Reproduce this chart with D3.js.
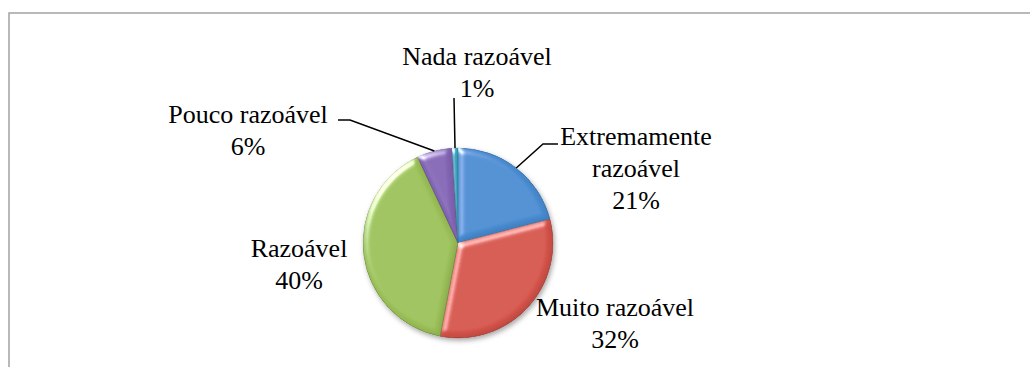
<!DOCTYPE html>
<html>
<head>
<meta charset="utf-8">
<script src="https://cdn.jsdelivr.net/npm/d3@7"></script>
<style>
  html, body { margin: 0; padding: 0; background: #fff; }
  svg { display: block; }
  text { font-family: "Liberation Serif", "Times New Roman", serif; font-size: 26px; fill: #000; }
</style>
</head>
<body>
<svg id="chart" width="1030" height="367"></svg>
<script>
// Survey answers and their share of responses (%)
const categories = ["Extremamente razoável", "Muito razoável", "Razoável", "Pouco razoável", "Nada razoável"];
const values = [21, 32, 40, 6, 1];
const colors = ["#4a8fd6", "#d9554b", "#9fc55a", "#8667b8", "#3ba8c4"];
const rimColors = ["#2f6aa8", "#a63a33", "#76953d", "#5f478c", "#237f97"];

// Label text rows per slice (name broken into lines, then the percentage)
const labelRows = [
  ["Extremamente", "razoável"],
  ["Muito razoável"],
  ["Razoável"],
  ["Pouco razoável"],
  ["Nada razoável"]
];

const W = 1030, H = 367;
const cx = 458, cy = 243, R = 95;
const lineGap = 32;

const svg = d3.select("#chart");

// chart frame (continues past the right and bottom edges)
svg.append("rect")
  .attr("x", 9).attr("y", 13)
  .attr("width", W + 20).attr("height", H + 20)
  .attr("fill", "#fff")
  .attr("stroke", "#a3a3a3")
  .attr("stroke-width", 1.5);

const defs = svg.append("defs");

// bevel lighting for each slice: bright edges facing the light, darker edges away from it
const bevel = defs.append("filter").attr("id", "bevel")
  .attr("x", "-10%").attr("y", "-10%").attr("width", "120%").attr("height", "120%");
bevel.append("feGaussianBlur").attr("in", "SourceAlpha").attr("stdDeviation", 3).attr("result", "blur");
const spec = bevel.append("feSpecularLighting")
  .attr("in", "blur").attr("surfaceScale", 4).attr("specularConstant", 0.8)
  .attr("specularExponent", 20).attr("lighting-color", "#ffffff").attr("result", "spec");
spec.append("feDistantLight").attr("azimuth", 225).attr("elevation", 25);
bevel.append("feComposite").attr("in", "spec").attr("in2", "SourceAlpha").attr("operator", "in").attr("result", "specIn");
const diff = bevel.append("feDiffuseLighting")
  .attr("in", "blur").attr("surfaceScale", 4).attr("diffuseConstant", 1)
  .attr("lighting-color", "#ffffff").attr("result", "diff");
diff.append("feDistantLight").attr("azimuth", 225).attr("elevation", 60);
bevel.append("feComposite").attr("in", "SourceGraphic").attr("in2", "diff")
  .attr("operator", "arithmetic").attr("k1", 0.35).attr("k2", 0.65).attr("k3", 0).attr("k4", 0).attr("result", "shaded");
bevel.append("feComposite").attr("in", "shaded").attr("in2", "specIn")
  .attr("operator", "arithmetic").attr("k1", 0).attr("k2", 1).attr("k3", 1).attr("k4", 0).attr("result", "lit");
bevel.append("feComposite").attr("in", "lit").attr("in2", "SourceAlpha").attr("operator", "in");

// soft shadow under the whole pie
const shadow = defs.append("filter").attr("id", "shadow")
  .attr("x", "-20%").attr("y", "-20%").attr("width", "140%").attr("height", "140%");
shadow.append("feDropShadow").attr("dx", 1.5).attr("dy", 2.5).attr("stdDeviation", 2.5)
  .attr("flood-color", "#000").attr("flood-opacity", 0.35);

const pie = d3.pie().sort(null).value(d => d)(values);
const arc = d3.arc().innerRadius(0).outerRadius(R);

const g = svg.append("g").attr("transform", `translate(${cx},${cy})`);
const slices = g.append("g").attr("filter", "url(#shadow)");

slices.selectAll("path")
  .data(pie)
  .join("path")
  .attr("d", arc)
  .attr("fill", (d, i) => colors[i])
  .attr("stroke", (d, i) => rimColors[i])
  .attr("stroke-width", 0.8)
  .attr("filter", "url(#bevel)");

// point on the pie rim at a slice's middle angle
function rimPoint(d) {
  const a = (d.startAngle + d.endAngle) / 2;
  return [R * Math.sin(a), -R * Math.cos(a)];
}

// label anchors (page coordinates of first baseline) and leader bends
const labelLayout = [
  { x: 636, y: 145, leader: [[543, 144], [558, 144]] },
  { x: 615, y: 316, leader: null },
  { x: 299, y: 257, leader: null },
  { x: 248, y: 123, leader: [[350, 120], [338, 120]] },
  { x: 477, y: 65,  leader: [[454, 98]] }
];

const labels = svg.append("g");
pie.forEach((d, i) => {
  const lay = labelLayout[i];
  if (lay.leader) {
    const p = rimPoint(d);
    const pts = [[cx + p[0], cy + p[1]]].concat(lay.leader);
    labels.append("path")
      .attr("d", d3.line()(pts))
      .attr("fill", "none")
      .attr("stroke", "#000")
      .attr("stroke-width", 1.5);
  }
  const rows = labelRows[i].concat([values[i] + "%"]);
  const t = labels.append("text").attr("text-anchor", "middle");
  rows.forEach((r, k) => {
    t.append("tspan").attr("x", lay.x).attr("y", lay.y + k * lineGap).text(r);
  });
});
</script>
</body>
</html>
